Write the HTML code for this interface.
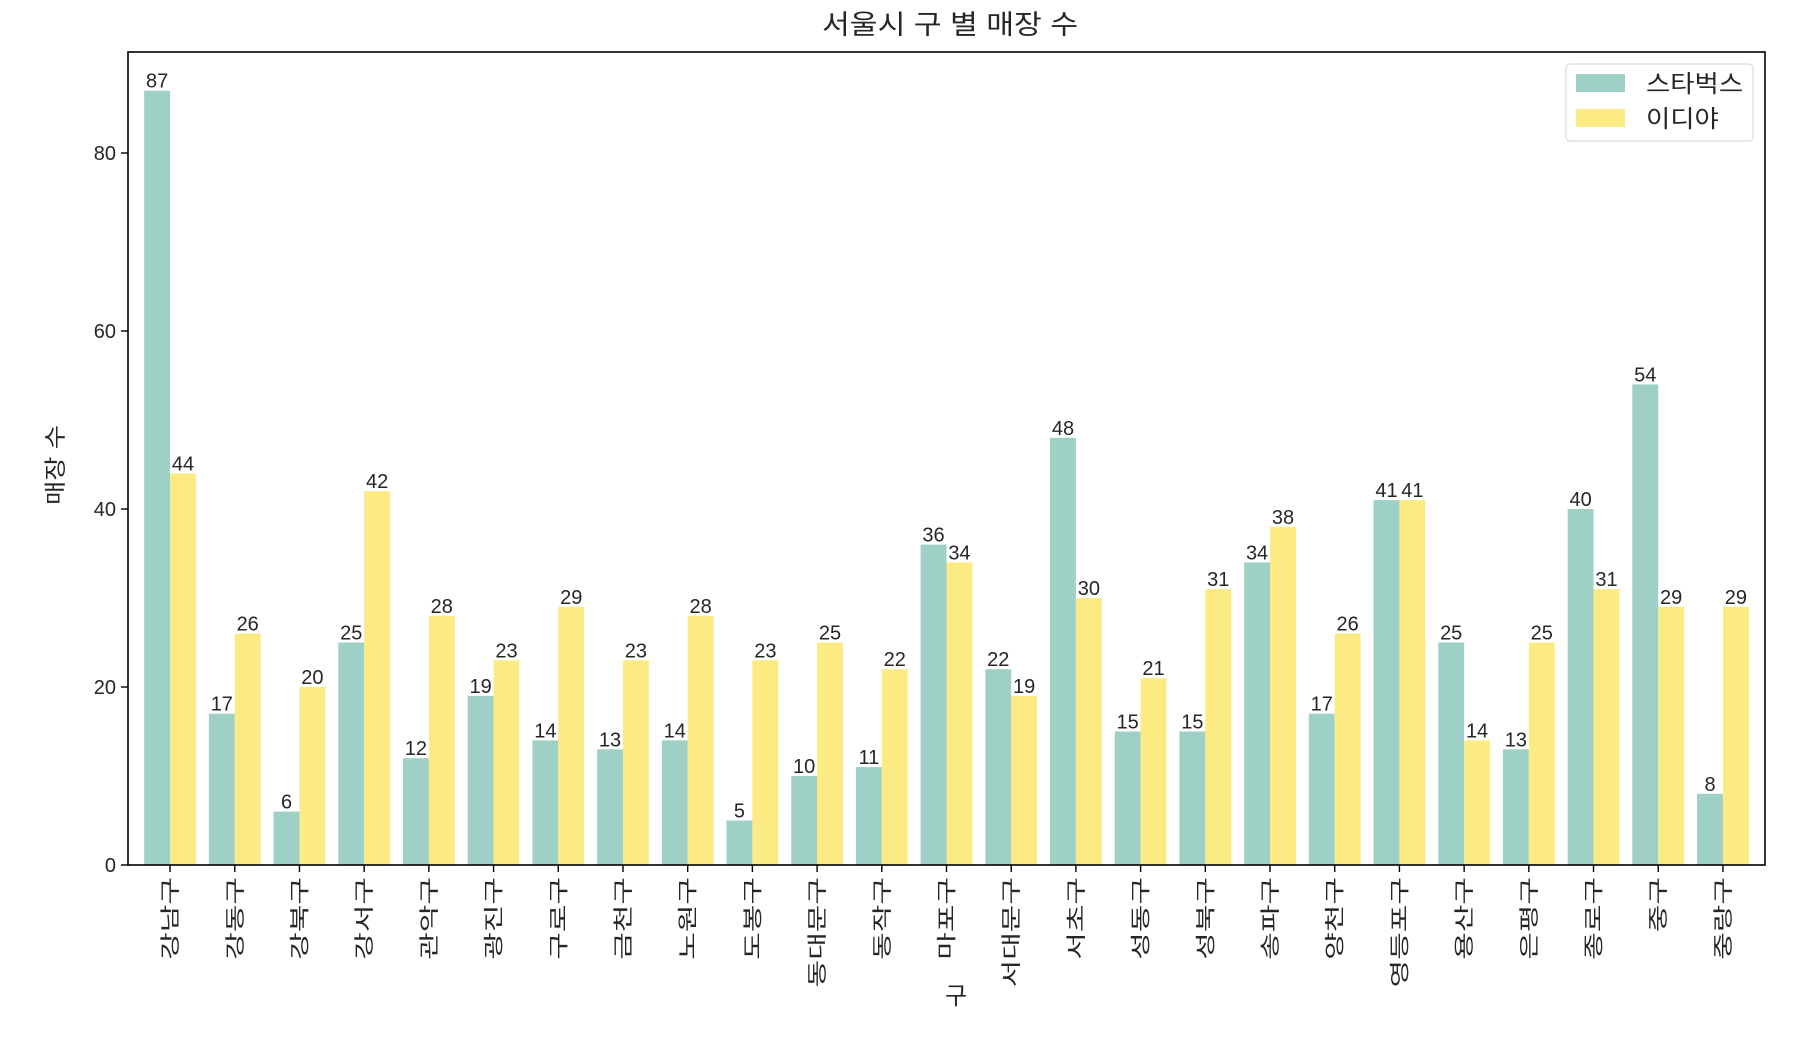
<!DOCTYPE html>
<html><head><meta charset="utf-8">
<style>
html,body{margin:0;padding:0;background:#fff;}
svg text{font-family:"Liberation Sans","Noto Sans CJK KR",sans-serif;fill:#262626;}
</style></head>
<body>
<svg id="chart" width="1807" height="1033" viewBox="0 0 1807 1033" xmlns="http://www.w3.org/2000/svg">
<text transform="translate(950,34) scale(1.12,1)" font-size="27" text-anchor="middle">서울시 구 별 매장 수</text>
<text transform="translate(63,465) rotate(-90) scale(1.2,1)" font-size="22" text-anchor="middle">매장 수</text>
<text x="956" y="1004" font-size="24" text-anchor="middle">구</text>
<g id="plot"></g>
<rect x="128" y="52" width="1637" height="813" fill="none" stroke="#000" stroke-width="1.6"/>
<g>
<rect x="1566" y="64" width="187" height="77" rx="4" fill="#fff" fill-opacity="0.85" stroke="#dcdcdc" stroke-width="1.2"/>
<rect x="1576" y="74" width="49" height="18" fill="#9ed0c6"/>
<text transform="translate(1646,92) scale(1.1,1)" font-size="24">스타벅스</text>
<rect x="1576" y="109" width="49" height="18" fill="#fbeb82"/>
<text transform="translate(1646,127) scale(1.1,1)" font-size="24">이디야</text>
</g>
</svg>
<script>
const categories = ["강남구","강동구","강북구","강서구","관악구","광진구","구로구","금천구","노원구","도봉구","동대문구","동작구","마포구","서대문구","서초구","성동구","성북구","송파구","양천구","영등포구","용산구","은평구","종로구","중구","중랑구"];
const starbucks = [87,17,6,25,12,19,14,13,14,5,10,11,36,22,48,15,15,34,17,41,25,13,40,54,8];
const ediya = [44,26,20,42,28,23,29,23,28,23,25,22,34,19,30,21,31,38,26,41,14,25,31,29,29];
const yTicks = [0,20,40,60,80];

const NS = "http://www.w3.org/2000/svg";
const L=128,R=1765,T=52,B=865;
const xMin=-0.65, xMax=categories.length-1+0.65;
const yMax=Math.max(...starbucks,...ediya)*1.05;
const xs=v=>L+(v-xMin)/(xMax-xMin)*(R-L);
const ys=v=>B-v/yMax*(B-T);
const g=document.getElementById('plot');
function mk(tag,attrs){const e=document.createElementNS(NS,tag);for(const k in attrs)e.setAttribute(k,attrs[k]);g.appendChild(e);return e;}
const bw=0.4;
function drawBar(i,v,off,color,series){
  const x0=xs(i+off), x1=xs(i+off+bw);
  const r=mk('rect',{x:x0,y:ys(v),width:x1-x0,height:B-ys(v),fill:color});
  
  
  const t=mk('text',{x:(x0+x1)/2,y:ys(v)-3,'font-size':'20','text-anchor':'middle'});
  t.textContent=v;
  
  
}
categories.forEach((c,i)=>{
  drawBar(i,starbucks[i],-bw,'#9ed0c6','starbucks');
  drawBar(i,ediya[i],0,'#fbeb82','ediya');
  const tk=mk('line',{x1:xs(i),x2:xs(i),y1:B,y2:B+7,stroke:'#000','stroke-width':1.4});
  
  
  const t=mk('text',{transform:`translate(${xs(i)+7},${B+12}) rotate(-90) scale(1.5,1)`,'font-size':'20','text-anchor':'end'});
  t.textContent=c;
  
  
});
yTicks.forEach(v=>{
  const tk=mk('line',{x1:L-7,x2:L,y1:ys(v),y2:ys(v),stroke:'#000','stroke-width':1.4});
  
  
  const t=mk('text',{x:L-12,y:ys(v)+7,'font-size':'20','text-anchor':'end'});
  t.textContent=v;
  
  
});
</script>
</body></html>
